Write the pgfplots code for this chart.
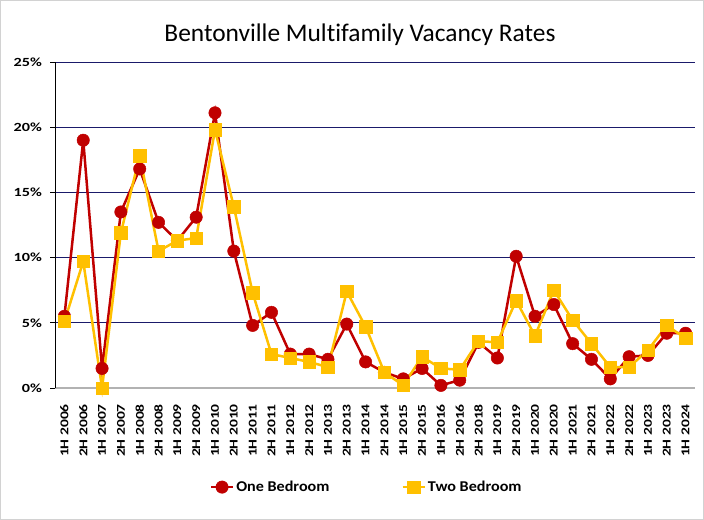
\documentclass[border=0pt]{standalone}
\usepackage{pgfplots}
\pgfplotsset{compat=1.18}
\usepackage{fontspec}
\setmainfont{Carlito}[Ligatures=NoCommon]
\newfontfamily\widefont[FakeStretch=1.3]{Carlito}
\newfontfamily\legfont[FakeStretch=1.08]{Carlito}
\definecolor{redA}{HTML}{C00000}
\definecolor{yelA}{HTML}{FFC000}
\definecolor{gridA}{HTML}{1A1A6A}
\begin{document}
\begin{tikzpicture}[x=1bp,y=1bp]
\path[use as bounding box] (0,0) rectangle (704,520);
\draw[gray!35, line width=0.8bp] (0.5,0.5) rectangle (703.5,519.5);
\node[font=\fontsize{25.5}{28}\selectfont, anchor=base, inner sep=0pt] at (360,478) {Bentonville Multifamily Vacancy Rates};
\begin{axis}[
  at={(55bp,132bp)}, anchor=south west,
  scale only axis, width=640bp, height=326bp,
  xmin=-0.5, xmax=33.5, ymin=0, ymax=25,
  xtick={0,...,33},
  xticklabels={1H 2006,2H 2006,1H 2007,2H 2007,1H 2008,2H 2008,1H 2009,2H 2009,1H 2010,2H 2010,1H 2011,2H 2011,1H 2012,2H 2012,1H 2013,2H 2013,1H 2014,2H 2014,1H 2015,2H 2015,1H 2016,2H 2016,2H 2018,1H 2019,2H 2019,1H 2020,2H 2020,1H 2021,2H 2021,1H 2022,2H 2022,1H 2023,2H 2023,1H 2024},
  x tick label style={rotate=90, anchor=east, font=\widefont\fontsize{12}{13}\selectfont\bfseries, inner sep=0pt},
  xticklabel shift=11bp,
  ytick={0,5,10,15,20,25},
  yticklabels={0\%,5\%,10\%,15\%,20\%,25\%},
  y tick label style={font=\widefont\fontsize{12.5}{13}\selectfont\bfseries, inner sep=0pt, anchor=east},
  yticklabel shift=8bp,
  major x tick style={draw=none},
  ytick style={black, line width=0.8bp},
  tick align=outside, major tick length=5bp,
  ymajorgrids, grid style={gridA, line width=0.9bp},
  axis x line*=bottom, axis y line*=left,
  x axis line style={gray!60, line width=1.2bp, -},
  y axis line style={black, line width=1bp, -},
  legend style={at={(0.487,-0.304)}, anchor=center, draw=none, fill=none,
    font=\legfont\fontsize{15}{17}\selectfont\bfseries, legend columns=2, inner sep=0pt,
    /tikz/every even column/.append style={column sep=70bp}},
  legend image code/.code={\draw[#1] (0bp,0bp) -- (22bp,0bp); \draw[#1, mark repeat=1] plot coordinates {(11bp,0bp)};},
  clip=false,
]
\addplot[redA, line width=2.5bp, mark=*, mark size=6.2bp, mark options={fill=redA, draw=redA, line width=0.5bp}] coordinates {
(0,5.5)(1,19.0)(2,1.5)(3,13.5)(4,16.8)(5,12.7)(6,11.3)(7,13.1)(8,21.1)(9,10.5)
(10,4.8)(11,5.8)(12,2.6)(13,2.6)(14,2.2)(15,4.9)(16,2.0)(17,1.2)(18,0.7)(19,1.5)
(20,0.2)(21,0.6)(22,3.5)(23,2.3)(24,10.1)(25,5.5)(26,6.4)(27,3.4)(28,2.2)(29,0.7)
(30,2.4)(31,2.5)(32,4.2)(33,4.2)};
\addlegendentry{One Bedroom}
\addplot[yelA, line width=2.5bp, mark=square*, mark size=6.2bp, mark options={fill=yelA, draw=yelA, line width=0.5bp}] coordinates {
(0,5.1)(1,9.7)(2,0.0)(3,11.9)(4,17.8)(5,10.5)(6,11.3)(7,11.5)(8,19.8)(9,13.9)
(10,7.3)(11,2.6)(12,2.3)(13,2.0)(14,1.6)(15,7.4)(16,4.7)(17,1.2)(18,0.2)(19,2.4)
(20,1.5)(21,1.4)(22,3.6)(23,3.5)(24,6.7)(25,4.0)(26,7.5)(27,5.2)(28,3.4)(29,1.6)
(30,1.6)(31,2.9)(32,4.8)(33,3.8)};
\addlegendentry{Two Bedroom}
\end{axis}
\end{tikzpicture}
\end{document}
